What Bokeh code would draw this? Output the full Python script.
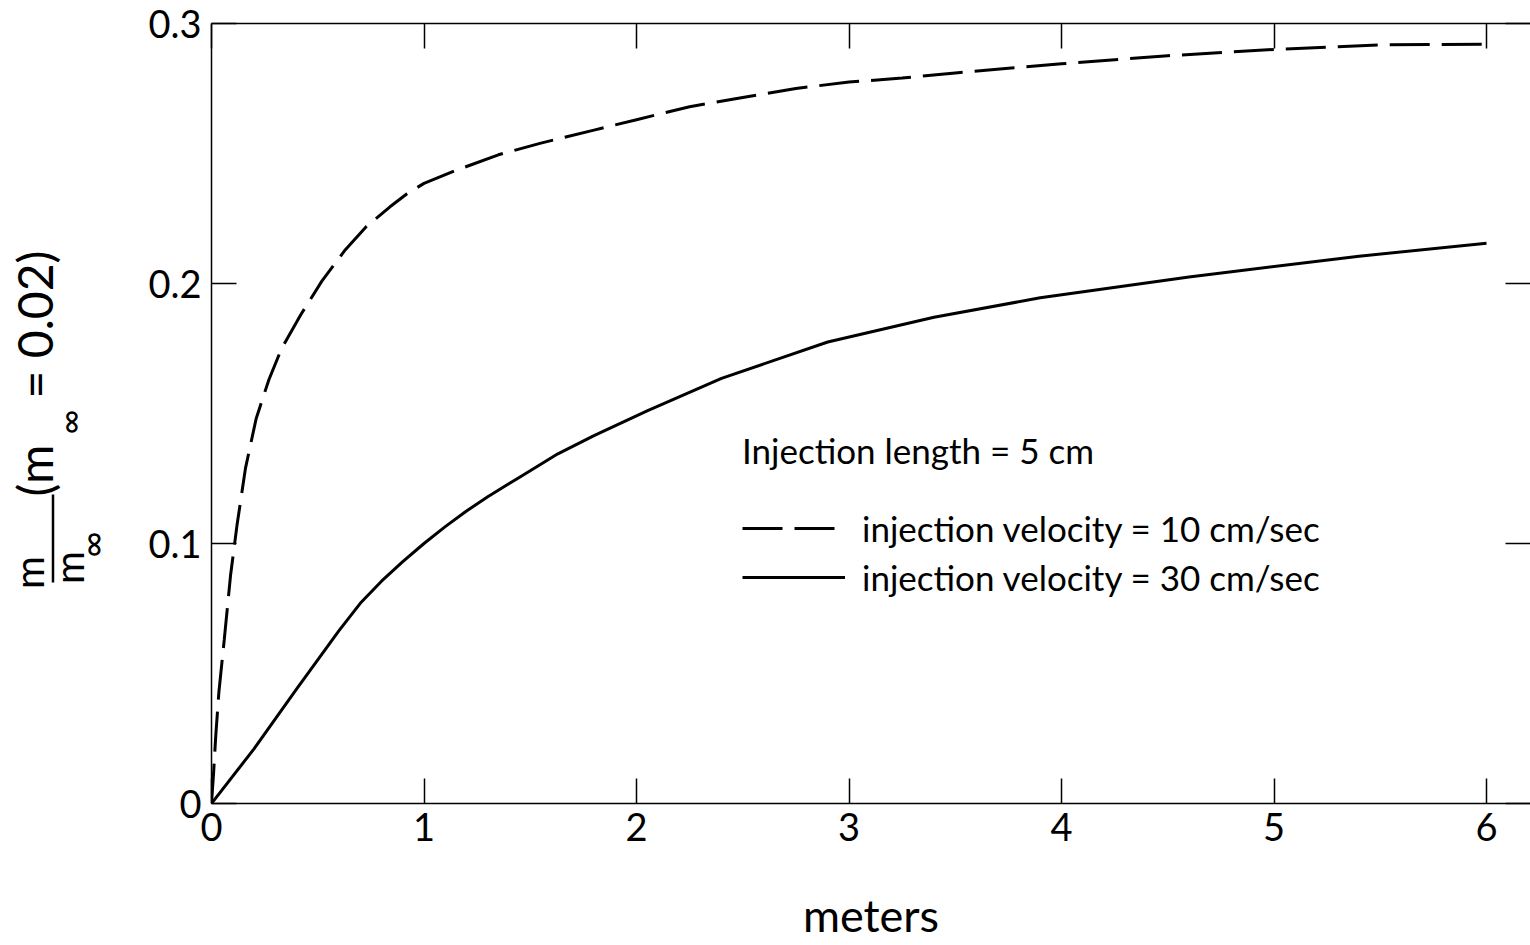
import math
from bokeh.plotting import figure
from bokeh.layouts import row
from bokeh.models import (Legend, LegendItem, LinearAxis, FixedTicker, Range1d,
                          ColumnDataSource)
from bokeh.core.properties import value
from bokeh.embed import file_html
from bokeh.resources import INLINE

# ---- data ----
x_ticks = [0, 1, 2, 3, 4, 5, 6]
x_tick_labels = ["0", "1", "2", "3", "4", "5", "6"]
y_ticks = [0.0, 0.1, 0.2, 0.3]
y_tick_labels = ["0", "0.1", "0.2", "0.3"]

# injection velocity = 10 cm/sec (dashed)
v10_x = [0, 0.01, 0.02, 0.035, 0.06, 0.09, 0.12, 0.16, 0.21, 0.27, 0.33, 0.42,
         0.52, 0.63, 0.73, 0.84, 0.92, 1.0, 1.15, 1.35, 1.55, 1.8, 2.0, 2.25,
         2.5, 2.75, 3.0, 3.25, 3.5, 3.75, 4.0, 4.5, 5.0, 5.5, 6.0]
v10_y = [0, 0.012, 0.026, 0.043, 0.063, 0.088, 0.107, 0.129, 0.148, 0.163,
         0.175, 0.188, 0.201, 0.213, 0.222, 0.2295, 0.2345, 0.2385, 0.2435,
         0.2495, 0.254, 0.259, 0.263, 0.268, 0.2715, 0.275, 0.2775, 0.279,
         0.281, 0.2828, 0.2845, 0.2876, 0.2900, 0.2918, 0.292]

# injection velocity = 30 cm/sec (solid)
v30_x = [0, 0.2, 0.4, 0.6, 0.7, 0.8, 0.9, 1.0, 1.1, 1.2, 1.3, 1.45, 1.63, 1.8,
         2.05, 2.4, 2.9, 3.4, 3.9, 4.6, 5.4, 6.0]
v30_y = [0, 0.021, 0.044, 0.0665, 0.077, 0.0855, 0.093, 0.1, 0.1065, 0.1125,
         0.118, 0.1255, 0.1345, 0.1415, 0.151, 0.1635, 0.1775, 0.187, 0.1945,
         0.2025, 0.2105, 0.2155]

legend_title = "Injection length = 5 cm"
label_v10 = "injection velocity = 10 cm/sec"
label_v30 = "injection velocity = 30 cm/sec"
x_label = "meters"
# y-axis label pieces: m / m∞ (m∞ = 0.02)
y_label_parts = ["m", "m", "\u221e", "(m", "\u221e", "= 0.02)"]

FONT = "Lato"
H = 944
LBL_W = 130
TOP = 23       # frame top (px)
BOTTOM = 141   # space below frame (px)

# ---------------- main plot ----------------
p = figure(width=1530 - LBL_W, height=H, x_range=Range1d(0, 6.207),
           y_range=Range1d(0, 0.3), output_backend="svg", toolbar_location=None,
           min_border_left=211 - LBL_W, min_border_right=0, min_border_top=TOP,
           min_border_bottom=BOTTOM)
p.outline_line_color = None
p.xgrid.visible = False
p.ygrid.visible = False


def style_axis(ax, labels=True):
    ax.major_tick_in = 25
    ax.major_tick_out = 0
    ax.minor_tick_line_color = None
    ax.axis_line_width = 1.5
    ax.axis_line_color = "black"
    ax.major_tick_line_width = 1.5
    ax.major_tick_line_color = "black"
    if labels:
        ax.major_label_text_font = FONT
        ax.major_label_text_font_size = "38px"
        ax.major_label_text_color = "black"
    else:
        ax.major_label_text_font_size = "0px"
        ax.major_label_standoff = 0


xb = p.xaxis[0]
xb.ticker = FixedTicker(ticks=x_ticks)
xb.major_label_overrides = dict(zip(x_ticks, x_tick_labels))
style_axis(xb)
xb.major_label_standoff = 9
xb.axis_label = x_label
xb.axis_label_text_font = FONT
xb.axis_label_text_font_size = "45px"
xb.axis_label_text_font_style = "normal"
xb.axis_label_text_color = "black"
xb.axis_label_standoff = 44

yl = p.yaxis[0]
yl.ticker = FixedTicker(ticks=y_ticks)
yl.major_label_overrides = dict(zip(y_ticks, y_tick_labels))
style_axis(yl)
yl.major_label_standoff = 10

xt = LinearAxis(ticker=FixedTicker(ticks=x_ticks),
                major_label_overrides={t: "" for t in x_ticks})
style_axis(xt, labels=False)
p.add_layout(xt, "above")

yr = LinearAxis(ticker=FixedTicker(ticks=y_ticks),
                major_label_overrides={t: "" for t in y_ticks})
style_axis(yr, labels=False)
yr.axis_line_color = None
p.add_layout(yr, "right")

r10 = p.line(v10_x, v10_y, line_color="black", line_width=3, line_dash="40 12")
r30 = p.line(v30_x, v30_y, line_color="black", line_width=3)

legend = Legend(items=[LegendItem(label=label_v10, renderers=[r10]),
                       LegendItem(label=label_v30, renderers=[r30])],
                location=(531, 205), title=legend_title,
                border_line_color=None, background_fill_alpha=0,
                padding=0, margin=0, spacing=7, glyph_width=103,
                glyph_height=20, label_standoff=17,
                label_text_font=FONT, label_text_font_size="35px",
                label_text_color="black",
                title_text_font=FONT, title_text_font_size="35px",
                title_text_font_style="normal", title_text_color="black",
                title_standoff=36)
p.add_layout(legend)

# ---------------- y-axis title panel (rotated, fraction layout) ----------------
# its frame matches the main frame vertically; y range = (H - page_y) pixels
q = figure(width=LBL_W, height=H, x_range=Range1d(0, LBL_W),
           y_range=Range1d(BOTTOM, H - TOP),
           output_backend="svg", toolbar_location=None,
           x_axis_type=None, y_axis_type=None,
           min_border_left=0, min_border_right=0, min_border_top=TOP,
           min_border_bottom=BOTTOM)
q.outline_line_color = None
q.xgrid.visible = False
q.ygrid.visible = False

# placement of each piece inside this title panel (pixels, y measured upward)
lbl_src = ColumnDataSource(dict(
    text=y_label_parts,
    x=[28, 68, 90, 34, 68, 34],
    y=[H - 572, H - 567, H - 544, H - 496, H - 434, H - 398],
    size=["40px", "40px", "36px", "48px", "34px", "48px"],
    align=["center", "center", "center", "left", "left", "left"],
))
q.text(x="x", y="y", text="text", source=lbl_src, angle=math.pi / 2,
       text_font=value(FONT), text_font_size="size", text_align="align",
       text_baseline="alphabetic", text_color="black")
# fraction bar
q.segment(x0=[52.5], y0=[H - 582], x1=[52.5], y1=[H - 494],
          line_color="black", line_width=2.5)

layout = row(q, p)
open("out.html", "w").write(file_html(layout, INLINE))
